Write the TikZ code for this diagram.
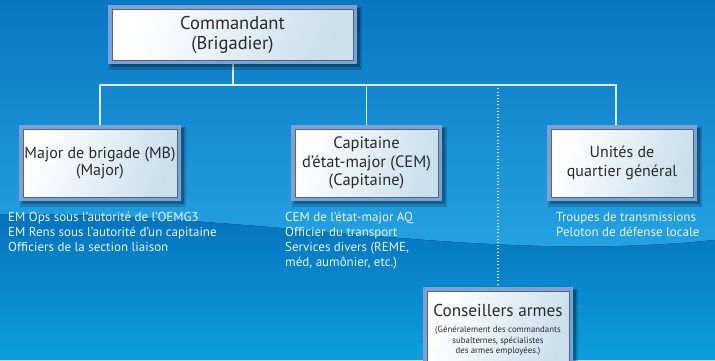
\documentclass[tikz,border=0pt]{standalone}
\usepackage{fontspec}
\setmainfont{PT Sans}
\definecolor{bgtop}{HTML}{0A76C2}
\definecolor{bgmid}{HTML}{25A3E3}
\definecolor{bglowa}{HTML}{0672BD}
\definecolor{bglowb}{HTML}{0CA0DD}
\definecolor{boxouter}{HTML}{7AA2DA}
\definecolor{boxline}{HTML}{5A6470}
\definecolor{boxend}{HTML}{C9DFEC}
\definecolor{textdark}{HTML}{2A2A2A}
\definecolor{listtext}{HTML}{EAF4FB}
\definecolor{conncol}{HTML}{DCEBF6}
\pgfdeclarelayer{bg}
\pgfdeclarelayer{lines}
\pgfsetlayers{bg,lines,main}
\tikzset{
  orgbox/.style={shade, shading=axis, left color=white, right color=boxend, shading angle=70,
    draw=boxline, line width=0.8pt, inner sep=0pt, text=textdark, align=center,
    preaction={draw=black, draw opacity=0.18, line width=12pt, transform canvas={shift={(3pt,-4pt)}}},
    preaction={draw=black, draw opacity=0.25, line width=8pt, transform canvas={shift={(3pt,-3pt)}}},
    preaction={draw=boxouter, line width=8pt}},
  listtxt/.style={anchor=north west, inner sep=0pt, align=left, text=listtext, font=\fontsize{13}{15}\selectfont},
  conn/.style={draw=conncol, line width=1.1pt},
  dotconn/.style={draw=conncol, line width=1.1pt, dash pattern=on 1pt off 2.2pt}
}
\begin{document}
\begin{tikzpicture}[x=1pt,y=-1pt]
\useasboundingbox (0,0) rectangle (715,360);
\begin{pgfonlayer}{bg}
\fill[top color=bgtop, bottom color=bgmid] (0,0) rectangle (715,252);
\fill[top color=bglowa, bottom color=bglowb] (0,214) .. controls (280,214) and (480,264) .. (715,240) -- (715,360) -- (0,360) -- cycle;
\end{pgfonlayer}

\node[orgbox, minimum width=241pt, minimum height=51pt, font=\fontsize{18.5}{20}\selectfont] (comm) at (232.5,34.5) {Commandant\\(Brigadier)};
\node[orgbox, minimum width=154pt, minimum height=68pt, font=\fontsize{16}{17}\selectfont] (major) at (100,163) {Major de brigade (MB)\\(Major)};
\node[orgbox, minimum width=143pt, minimum height=68pt, font=\fontsize{16.5}{18.5}\selectfont] (cap) at (366.5,163) {Capitaine\\d’état-major (CEM)\\(Capitaine)};
\node[orgbox, minimum width=142pt, minimum height=68pt, font=\fontsize{16}{18.5}\selectfont] (unit) at (622,163) {Unités de\\quartier général};
\node[orgbox, minimum width=142pt, minimum height=80pt, anchor=north, text depth=0pt] (cons) at (498,291) {};
\node[text=textdark, font=\fontsize{17.2}{20}\selectfont, inner sep=0pt] (consT) at (498,310) {Conseillers armes};
\node[text=textdark, font=\fontsize{8.8}{10.5}\selectfont, inner sep=0pt, align=center, anchor=north] (consS) at (498,326) {(Généralement des commandants\\subalternes, spécialistes\\des armes employées.)};

\node[listtxt] (majorL) at (8,212) {EM Ops sous l’autorité de l’OEMG3\\EM Rens sous l’autorité d’un capitaine\\Officiers de la section liaison};
\node[listtxt] (capL) at (285,212) {CEM de l’état-major AQ\\Officier du transport\\Services divers (REME,\\méd, aumônier, etc.)};
\node[listtxt] (unitL) at (556,212) {Troupes de transmissions\\Peloton de défense locale};

\coordinate (j) at (233,85);
\begin{pgfonlayer}{lines}
\draw[conn] (comm.south -| j) -- (j);
\draw[conn] (major.north) |- ([xshift=-6pt]unit.north |- j) -- ([xshift=-6pt]unit.north);
\draw[conn] (cap.north) -- (cap.north |- j);
\draw[dotconn] (cons.north) -- (cons.north |- j);
\end{pgfonlayer}
\end{tikzpicture}
\end{document}
